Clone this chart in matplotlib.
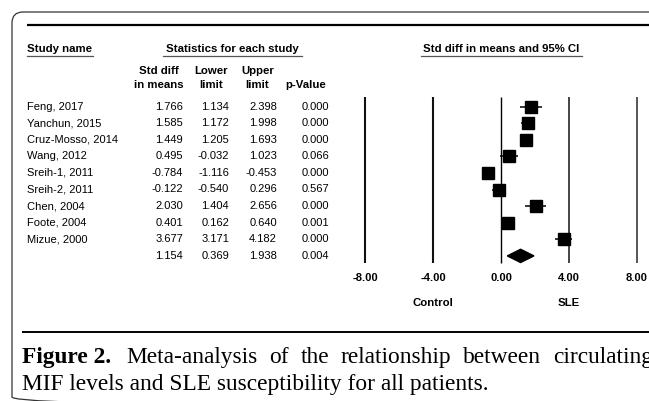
import matplotlib
matplotlib.use("Agg")
import matplotlib.pyplot as plt
from matplotlib.patches import FancyBboxPatch, Polygon

# ---------------- data ----------------
studies = ["Feng, 2017", "Yanchun, 2015", "Cruz-Mosso, 2014", "Wang, 2012",
           "Sreih-1, 2011", "Sreih-2, 2011", "Chen, 2004", "Foote, 2004", "Mizue, 2000"]
smd = [1.766, 1.585, 1.449, 0.495, -0.784, -0.122, 2.030, 0.401, 3.677]
lower = [1.134, 1.172, 1.205, -0.032, -1.116, -0.540, 1.404, 0.162, 3.171]
upper = [2.398, 1.998, 1.693, 1.023, -0.453, 0.296, 2.656, 0.640, 4.182]
pvals = [0.000, 0.000, 0.000, 0.066, 0.000, 0.567, 0.000, 0.001, 0.000]
pooled = [1.154, 0.369, 1.938, 0.004]  # smd, lower, upper, p
xticks = [-8.0, -4.0, 0.0, 4.0, 8.0]
side_labels = ["Control", "SLE"]
side_pos = [-4.0, 4.0]
caption_bold = "Figure 2."
caption_line1 = ["Meta-analysis", "of", "the", "relationship", "between", "circulating"]
caption_line2 = "MIF levels and SLE susceptibility for all patients."

W, H = 649, 401
fig = plt.figure(figsize=(W / 100, H / 100), dpi=100)
fig.patch.set_facecolor("white")

# overlay axes in pixel coordinates
ax0 = fig.add_axes([0, 0, 1, 1])
ax0.set_xlim(0, W)
ax0.set_ylim(H, 0)
ax0.axis("off")

sans = "Liberation Sans"
serif = "Liberation Serif"

# rounded frame (extends beyond the right and bottom edges)
frame = FancyBboxPatch((12, 12), 760, 396, boxstyle="round,pad=0,rounding_size=11",
                       fill=False, ec="#333333", lw=0.9, clip_on=False)
ax0.add_patch(frame)
# thick top rule and bottom rule
ax0.plot([27, W], [25, 25], color="black", lw=1.6, solid_capstyle="butt")
ax0.plot([22, W], [331.5, 331.5], color="black", lw=1.4, solid_capstyle="butt")

row_y0, row_dy = 106.5, 16.6
hdr_fs, txt_fs = 8.2, 8.0

# headers
ax0.text(27, 48.5, "Study name", fontsize=hdr_fs, fontweight="bold", family=sans, va="center", ha="left")
ax0.plot([27, 93], [55.5, 55.5], color="#555555", lw=0.9)
ax0.text(232.5, 48.5, "Statistics for each study", fontsize=hdr_fs, fontweight="bold", family=sans,
         va="center", ha="center")
ax0.plot([163, 302], [55.5, 55.5], color="#555555", lw=0.9)
ax0.text(501.5, 48.5, "Std diff in means and 95% CI", fontsize=hdr_fs, fontweight="bold", family=sans,
         va="center", ha="center")
ax0.plot([421, 582], [55.5, 55.5], color="#555555", lw=0.9)

col_centers = [158.5, 211, 257.5, 305.5]
col_heads = [("Std diff", "in means"), ("Lower", "limit"), ("Upper", "limit"), ("", "p-Value")]
for cx, (l1, l2) in zip(col_centers, col_heads):
    if l1:
        ax0.text(cx, 71.5, l1, fontsize=hdr_fs, fontweight="bold", family=sans, va="center", ha="center")
    ax0.text(cx, 85, l2, fontsize=hdr_fs, fontweight="bold", family=sans, va="center", ha="center")

col_right = [183, 229, 277, 329]
for i, name in enumerate(studies):
    y = row_y0 + row_dy * i
    ax0.text(27, y, name, fontsize=txt_fs, family=sans, va="center", ha="left")
    for xr, v in zip(col_right, [smd[i], lower[i], upper[i], pvals[i]]):
        ax0.text(xr, y, f"{v:.3f}", fontsize=txt_fs, family=sans, va="center", ha="right")
y = row_y0 + row_dy * len(studies)
for xr, v in zip(col_right, pooled):
    ax0.text(xr, y, f"{v:.3f}", fontsize=txt_fs, family=sans, va="center", ha="right")

# ---------------- forest axes ----------------
px0, px1 = 350, 649
py_top, py_bot = 90, 266
x_of = lambda p: (p - 501) / 17.0
r_of = lambda p: (p - row_y0) / row_dy
ax = fig.add_axes([px0 / W, 1 - py_bot / H, (px1 - px0) / W, (py_bot - py_top) / H])
ax.set_xlim(x_of(px0), x_of(px1))
ax.set_ylim(r_of(py_bot), r_of(py_top))
for s in ax.spines.values():
    s.set_visible(False)
ax.set_yticks([])
ax.set_facecolor("none")

line_cols = ["#111111", "#111111", "#000000", "#444444", "#555555"]
line_w = [1.5, 1.5, 1.0, 1.4, 1.4]
for xv, c, lw in zip(xticks, line_cols, line_w):
    ax.vlines(xv, r_of(97), r_of(263), color=c, lw=lw)

rows = list(range(len(studies)))
ax.hlines(rows, lower, upper, color="black", lw=1.1)
ax.plot(smd, rows, ls="none", marker="s", ms=9.3, color="black", mec="black")

n = len(studies)
h = 0.40
diamond = Polygon([(pooled[1], n), (pooled[0], n - h), (pooled[2], n), (pooled[0], n + h)],
                  closed=True, color="black")
ax.add_patch(diamond)

ax.set_xticks(xticks)
ax.set_xticklabels([f"{t:.2f}" for t in xticks], fontsize=8, fontweight="bold", family=sans)
ax.tick_params(axis="x", length=0, pad=5)

for lab, xp in zip(side_labels, side_pos):
    ax.text(xp, r_of(303), lab, fontsize=8.2, fontweight="bold", family=sans,
            ha="center", va="center", clip_on=False)

# ---------------- caption (justified first line) ----------------
cap_fs = 16.8
ax0.text(22, 363, caption_bold, fontsize=cap_fs, fontweight="bold", family=serif, va="baseline", ha="left")
renderer = fig.canvas.get_renderer()
words = [ax0.text(0, 363, wd, fontsize=cap_fs, family=serif, va="baseline", ha="left")
         for wd in caption_line1]
widths = [t.get_window_extent(renderer).width for t in words]
x_start, x_end = 126.0, 653.0
gap = (x_end - x_start - sum(widths)) / (len(words) - 1)
x = x_start
for t, w in zip(words, widths):
    t.set_x(x)
    x += w + gap
ax0.text(22, 390, caption_line2, fontsize=cap_fs, family=serif, va="baseline", ha="left")

fig.savefig("out.png", dpi=100, facecolor="white")
